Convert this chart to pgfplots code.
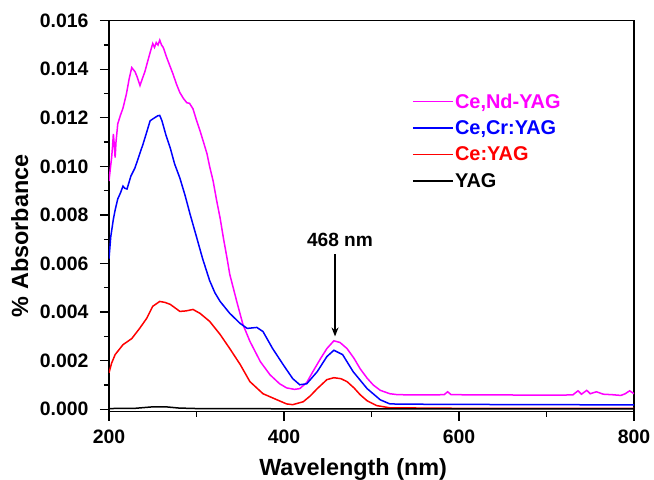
\documentclass[border=0pt]{standalone}
\usepackage{pgfplots}
\pgfplotsset{compat=1.18}
\usepackage{fontspec}
\setmainfont{Liberation Sans}
\usetikzlibrary{arrows.meta}
\definecolor{cmag}{RGB}{255,0,255}
\definecolor{cblue}{RGB}{0,0,255}
\definecolor{cred}{RGB}{255,0,0}
\begin{document}
\begin{tikzpicture}
\useasboundingbox (-109bp,-68bp) rectangle (545bp,411.7bp);
\begin{axis}[
  scale only axis, width=525bp, height=391bp,
  at={(0,0)}, anchor=south west,
  xmin=200, xmax=800, ymin=-0.0001, ymax=0.016,
  xtick={200,400,600,800}, minor xtick={300,500,700},
  ytick={0,0.002,0.004,0.006,0.008,0.010,0.012,0.014,0.016},
  minor ytick={0.001,0.003,0.005,0.007,0.009,0.011,0.013,0.015},
  xtick pos=left, ytick pos=left, tick align=outside,
  major tick length=9bp, minor tick length=5bp,
  every tick/.style={black, line width=1.3bp},
  axis line style={line width=1.4bp},
  scaled y ticks=false,
  yticklabel style={/pgf/number format/fixed, /pgf/number format/precision=3, /pgf/number format/fixed zerofill, xshift=-8bp},
  xticklabel style={yshift=-6bp},
  /pgf/number format/assume math mode=true,
  tick label style={font=\fontsize{19.5}{20}\selectfont\bfseries},
  xlabel={Wavelength (nm)}, ylabel={\% Absorbance},
  label style={font=\fontsize{23.5}{24}\selectfont\bfseries},
  xlabel style={at={(axis description cs:0.465,-0.164)}, anchor=base},
  ylabel style={at={(axis description cs:-0.17,0.45)}, anchor=center},
  legend style={draw=none, fill=none, at={(axis description cs:0.571,0.823)}, anchor=north west,
    font=\fontsize{20}{22}\selectfont\bfseries, row sep=8bp,
    nodes={inner sep=1.5bp}},
  legend cell align=left,
  legend image code/.code={\draw[#1, line width=1.6bp] (0bp,0bp) -- (40bp,0bp);},
  every axis plot/.append style={line width=1.5bp},
  clip=true,
]
\addplot[cmag] coordinates {(200,0.0094) (201.5,0.0099) (203,0.01036) (204,0.0108) (205,0.01134) (206,0.0109) (207,0.01036) (208,0.0110) (210,0.01175) (213,0.0121) (216,0.0124) (220,0.0130) (223,0.0136) (226,0.01407) (229.7,0.0139) (232,0.0137) (235.4,0.01333) (238,0.01360) (241,0.0139) (244,0.0143) (247,0.01469) (250,0.01506) (252,0.0149) (254,0.0151) (256,0.0150) (258,0.0152) (260,0.0150) (262,0.0149) (266,0.01448) (270,0.0141) (273,0.01382) (277,0.0134) (281,0.01304) (285,0.0128) (289,0.01262) (292,0.0126) (296,0.01237) (300,0.0119) (304,0.01147) (308,0.0110) (312,0.01052) (315,0.0100) (319,0.0094) (323,0.0086) (327,0.00787) (331,0.0070) (335,0.0062) (338,0.00556) (342,0.0050) (346,0.00444) (353,0.0035) (361,0.0028) (373,0.00196) (384,0.00142) (395,0.00105) (403,0.00088) (412,0.00082) (418,0.00085) (426,0.00110) (433,0.00155) (442,0.0021) (449,0.0025) (457,0.00282) (464,0.00275) (472,0.0025) (480,0.0021) (487,0.00167) (495,0.00128) (502,0.001) (510,0.00078) (521,0.00064) (530,0.0006) (560,0.00059) (583,0.0006) (587,0.00072) (591,0.0006) (650,0.00059) (700,0.00058) (730,0.00059) (736,0.00076) (740,0.00062) (746,0.00078) (750,0.00064) (757,0.00072) (765,0.00062) (775,0.0006) (785,0.00057) (790,0.00064) (795,0.00076) (800,0.00064)};
\addlegendentry{\textcolor{cmag}{Ce,Nd-YAG}}
\addplot[cblue] coordinates {(200,0.0062) (202,0.0071) (205,0.00783) (207,0.0082) (210,0.00866) (213,0.0089) (216,0.00919) (218,0.0091) (220.6,0.00907) (225,0.0096) (229.7,0.00994) (234,0.0104) (239,0.01093) (243,0.0114) (247,0.01188) (252,0.0120) (256,0.01209) (258,0.0121) (260.5,0.01188) (265,0.0113) (270,0.01076) (275,0.0101) (281,0.00952) (287,0.0088) (292.6,0.00804) (300,0.0071) (307,0.0062) (315,0.0053) (321,0.0048) (327,0.00444) (338,0.00395) (350,0.00353) (358,0.00333) (369,0.00337) (376,0.0032) (387,0.0025) (399,0.00184) (410,0.00126) (418,0.00101) (426,0.00105) (438,0.00155) (449,0.00217) (457,0.00243) (467,0.00225) (479,0.00155) (495,0.00085) (510,0.00039) (521,0.00022) (540,0.00021) (600,0.0002) (700,0.00019) (800,0.00018)};
\addlegendentry{\textcolor{cblue}{Ce,Cr:YAG}}
\addplot[cred] coordinates {(200,0.0015) (203,0.0019) (207,0.00225) (216,0.00266) (226,0.00291) (235,0.00333) (243,0.00374) (250,0.00424) (258,0.00444) (264,0.0044) (270,0.00432) (281,0.00403) (288,0.00405) (296,0.00411) (304,0.00395) (315,0.00362) (327,0.00308) (338,0.0025) (350,0.00184) (361,0.00114) (376,0.00064) (392,0.00039) (403,0.00022) (410,0.00019) (422,0.00031) (430,0.00055) (438,0.00085) (449,0.00122) (457,0.0013) (465,0.00126) (472,0.00114) (480,0.00088) (487,0.0006) (495,0.00035) (506,0.00015) (521,0.00006) (600,0.00004) (800,0.00004)};
\addlegendentry{\textcolor{cred}{Ce:YAG}}
\addplot[black] coordinates {(200,0.00003) (230,0.00004) (250,0.0001) (265,0.0001) (280,0.00005) (300,0.00003) (400,0.00002) (500,0.00002) (600,0.00002) (800,0.00002)};
\addlegendentry{YAG}
\node[font=\fontsize{19.2}{20}\selectfont\bfseries] at (axis cs:464,0.00698) {468 nm};
\draw[line width=1.2bp, -{Stealth[length=9bp,width=7bp]}] (axis cs:458.3,0.00638) -- (axis cs:458.3,0.0030);
\end{axis}
\end{tikzpicture}
\end{document}
